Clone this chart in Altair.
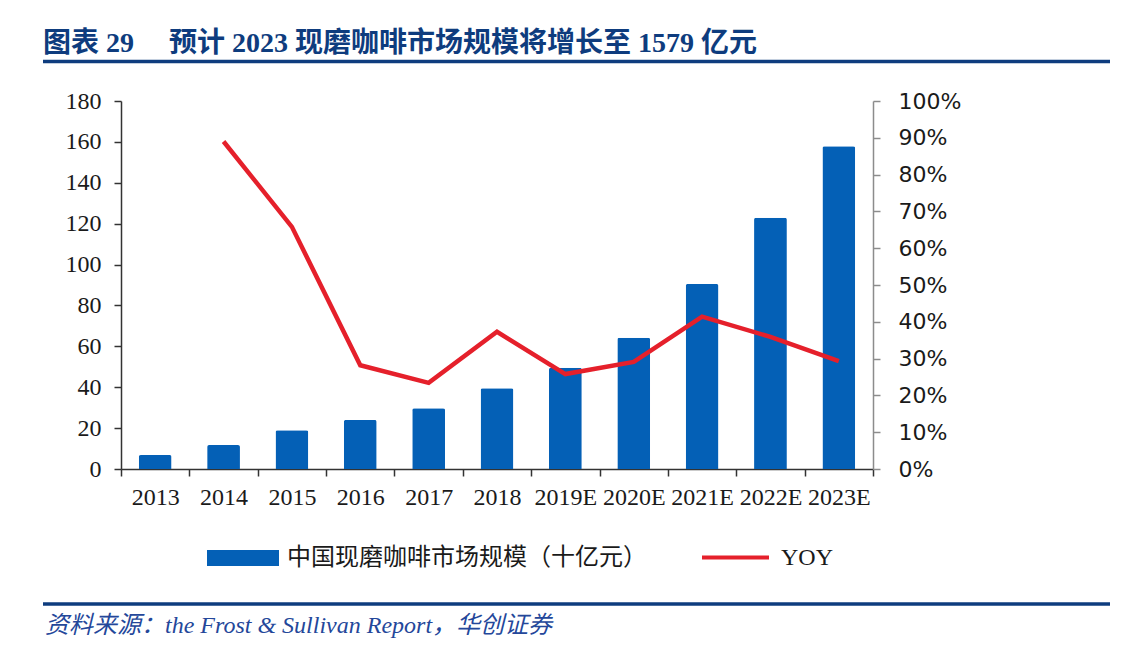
import altair as alt
import pandas as pd

years = ["2013", "2014", "2015", "2016", "2017", "2018",
         "2019E", "2020E", "2021E", "2022E", "2023E"]
market = [6.8, 11.7, 19.0, 24.0, 29.7, 39.5, 49.5, 64.2, 90.5, 122.9, 157.9]
yoy = [None, 0.89, 0.658, 0.282, 0.234, 0.373, 0.258, 0.291, 0.414, 0.359, 0.293]
left_ticks = [0, 20, 40, 60, 80, 100, 120, 140, 160, 180]
right_ticks = [0, 0.1, 0.2, 0.3, 0.4, 0.5, 0.6, 0.7, 0.8, 0.9, 1.0]

bar_name = "中国现磨咖啡市场规模（十亿元）"
line_name = "YOY"
title_text = "图表 29\u2003 预计 2023 现磨咖啡市场规模将增长至 1579 亿元"
source_text = "资料来源：the Frost & Sullivan Report，华创证券"

BLUE = "#0460B6"
RED = "#E5202B"
NAVY = "#0E3C7E"
SERIF = "Liberation Serif, Noto Sans CJK SC"

df = pd.DataFrame({"year": years, "market": market, "yoy": yoy,
                   "s1": [bar_name] * len(years), "s2": [line_name] * len(years)})

x = alt.X("year:N", sort=years,
          scale=alt.Scale(paddingInner=0, paddingOuter=0),
          axis=alt.Axis(title=None, labelAngle=0, tickBand="extent", tickSize=7,
                        labelPadding=9, domainColor="#333333", tickColor="#333333",
                        domainWidth=1.5, tickWidth=1.5,
                        labelFont="Liberation Serif", labelFontSize=24,
                        labelColor="#1a1a1a", grid=False))

base = alt.Chart(df)

bars = base.mark_bar(width=alt.RelativeBandSize(0.48),
                     cornerRadiusTopLeft=2, cornerRadiusTopRight=2).encode(
    x=x,
    y=alt.Y("market:Q", scale=alt.Scale(domain=[0, 180], nice=False),
            axis=alt.Axis(title=None, values=left_ticks, tickSize=7, labelPadding=13,
                          domainColor="#333333", tickColor="#333333",
                          domainWidth=1.5, tickWidth=1.5,
                          labelFont="Liberation Serif", labelFontSize=24,
                          labelColor="#1a1a1a", grid=False)),
    fill=alt.Fill("s1:N", scale=alt.Scale(domain=[bar_name], range=[BLUE]),
                  legend=alt.Legend(title=None, orient="none", legendX=86, legendY=421,
                                    symbolType="M-1,-0.2222H1V0.2222H-1Z",
                                    symbolSize=5184, symbolStrokeWidth=0,
                                    labelFont="Noto Sans CJK SC", labelFontSize=24,
                                    labelColor="#1a1a1a", labelOffset=8,
                                    labelLimit=600, padding=0)),
)

line = base.mark_line(strokeWidth=4.5).encode(
    x=x,
    y=alt.Y("yoy:Q", scale=alt.Scale(domain=[0, 1], nice=False),
            axis=alt.Axis(title=None, orient="right", values=right_ticks, format=".0%",
                          tickSize=7, labelPadding=18,
                          domainColor="#8c8c8c", tickColor="#8c8c8c",
                          domainWidth=1.5, tickWidth=1.5,
                          labelFont="DejaVu Sans", labelFontSize=22,
                          labelColor="#1a1a1a", grid=False)),
    stroke=alt.Stroke("s2:N", scale=alt.Scale(domain=[line_name], range=[RED]),
                      legend=alt.Legend(title=None, orient="none", legendX=579, legendY=421,
                                        symbolType="stroke", symbolSize=4489,
                                        symbolStrokeWidth=4,
                                        labelFont="Liberation Serif", labelFontSize=24,
                                        labelColor="#1a1a1a", labelOffset=10,
                                        labelLimit=300, padding=0)),
)

deco_df = pd.DataFrame({"title": [title_text], "source": [source_text]})
deco = alt.Chart(deco_df)

title = deco.mark_text(align="left", baseline="alphabetic", font=SERIF, fontSize=28,
                       fontWeight="bold", color=NAVY).encode(
    x=alt.value(-78), y=alt.value(-49), text="title:N")
top_rule = deco.mark_rule(color=NAVY, strokeWidth=3.5).encode(
    x=alt.value(-78), x2=alt.value(989), y=alt.value(-39.5))
bottom_rule = deco.mark_rule(color=NAVY, strokeWidth=3.5).encode(
    x=alt.value(-78), x2=alt.value(989), y=alt.value(503))
source = deco.mark_text(align="left", baseline="alphabetic", font=SERIF, fontSize=24,
                        fontStyle="italic", color="#24479A").encode(
    x=alt.value(-76), y=alt.value(532), text="source:N")

chart = alt.layer(bars, line, title, top_rule, bottom_rule, source).resolve_scale(
    y="independent", fill="independent", stroke="independent"
).properties(
    width=752, height=368,
    padding={"left": 113, "top": 93, "right": 246, "bottom": 170},
    autosize=alt.AutoSizeParams(type="none"),
).configure_view(stroke=None)

chart.save("out.html", embed_options={"renderer": "svg", "actions": False})
